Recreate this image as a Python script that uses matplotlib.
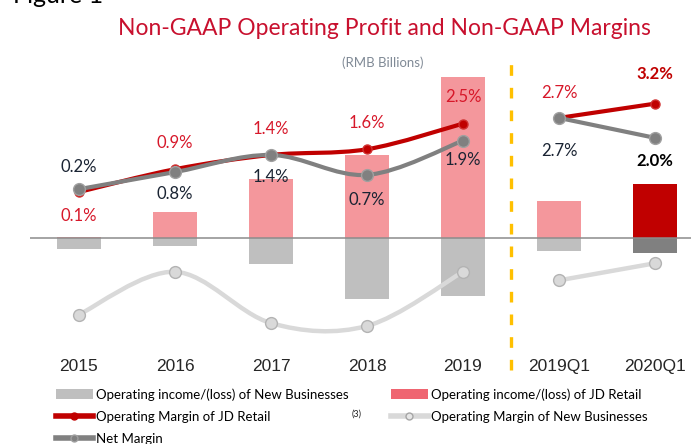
import numpy as np
import matplotlib
matplotlib.use('Agg')
import matplotlib.pyplot as plt
from matplotlib.path import Path
from matplotlib.patches import PathPatch, Patch
from matplotlib.lines import Line2D

# data (RMB billions for bars, % for margins)
periods = ["2015", "2016", "2017", "2018", "2019", "2019Q1", "2020Q1"]
jd_retail_income = [0.1, 2.3, 5.1, 7.2, 13.9, 3.2, 4.7]
new_biz_income = [-0.9, -0.7, -2.2, -5.2, -5.0, -1.1, -1.3]
jd_retail_margin = [0.1, 0.9, 1.4, 1.6, 2.5, 2.7, 3.2]
net_margin = [0.2, 0.8, 1.4, 0.7, 1.9, 2.7, 2.0]
new_biz_margin = [-4.2, -2.7, -4.5, -4.6, -2.7, -3.0, -2.4]

# colours
PINK = "#F4979C"
DARK_RED = "#C00000"
LIGHT_GREY = "#BFBFBF"
MID_GREY = "#808080"
PALE_GREY = "#D9D9D9"
LABEL_RED = "#D7182A"
LABEL_DARK = "#1A2433"

CAL = ["Lato", "DejaVu Sans"]
ARIAL = ["Liberation Sans", "DejaVu Sans"]

W, H = 691, 444
fig = plt.figure(figsize=(W / 100, H / 100), dpi=100)

# axes placed in pixel terms: x from 30 to 691, y from 58 to 340
ax = fig.add_axes([30 / W, (H - 340) / H, 661 / W, 282 / H])
x = np.arange(len(periods))
ax.set_xlim(-0.5104, 6.375)
ax.set_ylim(-8.767, 15.543)

jd_cols = [PINK] * 6 + [DARK_RED]
nb_cols = [LIGHT_GREY] * 6 + [MID_GREY]
ax.bar(x, jd_retail_income, width=0.45, color=jd_cols, zorder=2)
ax.bar(x, new_biz_income, width=0.45, color=nb_cols, zorder=2)
ax.axhline(0, color="#8C8C8C", lw=1.1, zorder=3)

# dashed separator between annual and quarterly
ax.plot([4.5, 4.5], [-0.106, 1.0], transform=ax.get_xaxis_transform(),
        color="#FFC000", lw=2.4, dashes=(3.2, 3.6), clip_on=False, zorder=1)

for s in ax.spines.values():
    s.set_visible(False)
ax.set_yticks([])
ax.set_xticks(x, periods)
ax.tick_params(axis="x", length=0, pad=14, labelsize=12.5, labelcolor="#262626")
for t in ax.get_xticklabels():
    t.set_family(ARIAL)

# margins on a second scale
ax2 = ax.twinx()
ax2.set_ylim(-5.093, 4.802)
ax2.axis("off")


def smooth_path(xs, ys):
    pts = np.column_stack([xs, ys]).astype(float)
    n = len(pts)
    verts = [pts[0]]
    codes = [Path.MOVETO]
    for i in range(n - 1):
        p0 = pts[max(i - 1, 0)]
        p1 = pts[i]
        p2 = pts[i + 1]
        p3 = pts[min(i + 2, n - 1)]
        verts += [p1 + (p2 - p0) / 6, p2 - (p3 - p1) / 6, p2]
        codes += [Path.CURVE4] * 3
    return Path(verts, codes)


def draw_series(vals, color, lw, z, ms, mfc, mec):
    for seg in (slice(0, 5), slice(5, 7)):
        xs = x[seg]
        ys = np.array(vals)[seg]
        ax2.add_patch(PathPatch(smooth_path(xs, ys), fill=False, edgecolor=color,
                                lw=lw, capstyle="round", joinstyle="round", zorder=z))
        ax2.plot(xs, ys, "o", ms=ms, mfc=mfc, mec=mec, mew=1, zorder=z + 0.5)


draw_series(new_biz_margin, PALE_GREY, 3.2, 2, 8.5, PALE_GREY, "#B3B3B3")
draw_series(jd_retail_margin, DARK_RED, 3.0, 3, 6.5, DARK_RED, "#D03030")
draw_series(net_margin, MID_GREY, 3.0, 4, 8.5, MID_GREY, "#A0A0A0")

# value labels (offsets in points, up is positive)
red_off = [-17, 19, 19, 19, 19, 18, 21]
dark_off = [16, -16, -16, -18, -14, -24, -17]
for i in range(len(periods)):
    last = i == len(periods) - 1
    ax2.annotate(f"{jd_retail_margin[i]:.1f}%", (x[i], jd_retail_margin[i]),
                 xytext=(0, red_off[i]), textcoords="offset points",
                 ha="center", va="center", fontsize=12, family=CAL,
                 color=DARK_RED if last else LABEL_RED,
                 fontweight="bold" if last else "normal", zorder=6)
    ax2.annotate(f"{net_margin[i]:.1f}%", (x[i], net_margin[i]),
                 xytext=(0, dark_off[i]), textcoords="offset points",
                 ha="center", va="center", fontsize=12, family=CAL,
                 color="#000000" if last else LABEL_DARK,
                 fontweight="bold" if last else "normal", zorder=6)

# titles
fig.text(13 / W, 1 - 3 / H, "Figure 1", fontsize=18, family=CAL, va="baseline",
         color="black")
fig.text(384 / W, 1 - 35 / H, "Non-GAAP Operating Profit and Non-GAAP Margins",
         fontsize=16.5, family=CAL, color="#C8102E", ha="center", va="baseline")
fig.text(383 / W, 1 - 63 / H, "(RMB Billions)", fontsize=9.5, family=CAL,
         color="#808A96", ha="center", va="center")

# legend, two columns
leg_kw = dict(loc="upper left", frameon=False, prop={"family": CAL, "size": 9.5},
              handlelength=2.8, handleheight=0.75, handletextpad=0.25,
              labelspacing=0.78, borderpad=0, borderaxespad=0)
h_left = [Patch(fc=LIGHT_GREY),
          Line2D([], [], color=DARK_RED, lw=4, marker="o", ms=5),
          Line2D([], [], color=MID_GREY, lw=4, marker="o", ms=5, mfc=MID_GREY, mec="#A0A0A0")]
l_left = ["Operating income/(loss) of New Businesses",
          "Operating Margin of JD Retail",
          "Net Margin"]
h_right = [Patch(fc="#EF6571"),
           Line2D([], [], color=PALE_GREY, lw=4, marker="o", ms=5, mfc="#E6E6E6", mec="#A6A6A6")]
l_right = ["Operating income/(loss) of JD Retail",
           "Operating Margin of New Businesses"]
fig.legend(h_left, l_left, bbox_to_anchor=(56 / W, (H - 388) / H), **leg_kw)
fig.legend(h_right, l_right, bbox_to_anchor=(391 / W, (H - 388) / H), **leg_kw)
fig.text(357 / W, (H - 414) / H, "(3)", fontsize=6.5, family=CAL, color="#262626",
         ha="center", va="center")

fig.savefig("out.png", dpi=100)
